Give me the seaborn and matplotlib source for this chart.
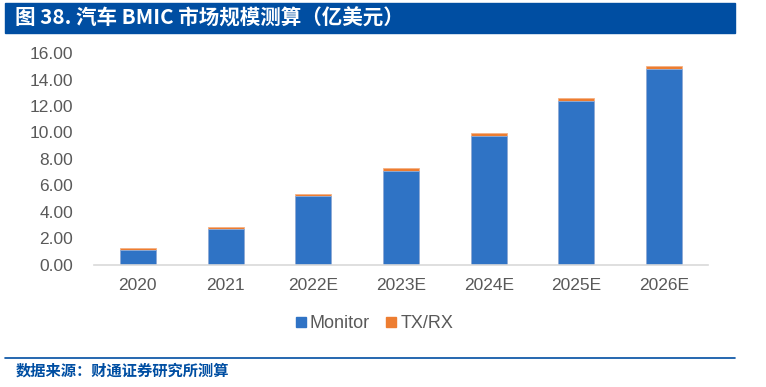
import numpy as np
import pandas as pd
import matplotlib
matplotlib.use("Agg")
import matplotlib.pyplot as plt
import seaborn as sns
from matplotlib.patches import Rectangle
from matplotlib.lines import Line2D

sns.set_theme(style="white")
plt.rcParams["font.family"] = ["Liberation Sans", "Noto Sans CJK SC", "DejaVu Sans"]

# data (100M USD)
years = ["2020", "2021", "2022E", "2023E", "2024E", "2025E", "2026E"]
monitor = [1.08, 2.71, 5.19, 7.11, 9.73, 12.41, 14.83]
txrx = [0.15, 0.15, 0.17, 0.18, 0.23, 0.20, 0.23]
yticks = [0, 2, 4, 6, 8, 10, 12, 14, 16]

BLUE = "#2F73C5"
ORANGE = "#ED7D31"
NAVY = "#004EA2"
GREY_TXT = "#595959"

df = pd.DataFrame({"year": years, "Monitor": monitor, "TX/RX": txrx})
df["total"] = df["Monitor"] + df["TX/RX"]

fig = plt.figure(figsize=(7.66, 3.87), dpi=100)
ax = fig.add_axes([0.1227, 0.3165, 0.8016, 0.5458])

# stacked: draw total in orange, then monitor on top in blue
sns.barplot(data=df, x="year", y="total", color=ORANGE, width=0.41,
            saturation=1, ax=ax, edgecolor="#F4B183", linewidth=0.6)
sns.barplot(data=df, x="year", y="Monitor", color=BLUE, width=0.41,
            saturation=1, ax=ax, edgecolor="#8FB1E0", linewidth=0.6)

ax.set_ylim(0, 16)
ax.set_xlim(-0.5, len(years) - 0.5)
ax.set_yticks(yticks)
ax.set_yticklabels([f"{v:.2f}" for v in yticks])
ax.set_xlabel("")
ax.set_ylabel("")
for s in ["top", "right", "left"]:
    ax.spines[s].set_visible(False)
ax.spines["bottom"].set_color("#D9D9D9")
ax.spines["bottom"].set_linewidth(1.2)
ax.tick_params(axis="y", length=0, pad=15, labelsize=12.5, labelcolor=GREY_TXT)
ax.tick_params(axis="x", length=0, pad=10, labelsize=12.5, labelcolor=GREY_TXT)

handles = [Line2D([], [], marker="s", linestyle="", color=BLUE, markersize=7),
           Line2D([], [], marker="s", linestyle="", color=ORANGE, markersize=7)]
fig.legend(handles, ["Monitor", "TX/RX"], loc="center", bbox_to_anchor=(0.485, 1 - 324 / 387),
           ncol=2, frameon=False, fontsize=13, handletextpad=-0.1, columnspacing=0.6,
           handlelength=1.2, labelcolor=GREY_TXT)

# title bar
fig.patches.append(Rectangle((5 / 766, 1 - 33 / 387), 730 / 766, 30 / 387,
                             transform=fig.transFigure, color=NAVY, zorder=0))
fig.text(15 / 766, 1 - 18 / 387, "图 38. 汽车 BMIC 市场规模测算（亿美元）",
         color="white", fontsize=14.8, fontweight="bold", va="center", ha="left",
         family=["Noto Sans CJK SC", "DejaVu Sans"])

# source line and text
fig.add_artist(Line2D([5 / 766, 735 / 766], [1 - 358 / 387] * 2,
                      transform=fig.transFigure, color=NAVY, linewidth=1.2))
fig.text(16 / 766, 1 - 371 / 387, "数据来源：财通证券研究所测算",
         color=NAVY, fontsize=11, fontweight="bold", va="center", ha="left",
         family=["Noto Sans CJK SC", "DejaVu Sans"])

fig.savefig("out.png", dpi=100)
